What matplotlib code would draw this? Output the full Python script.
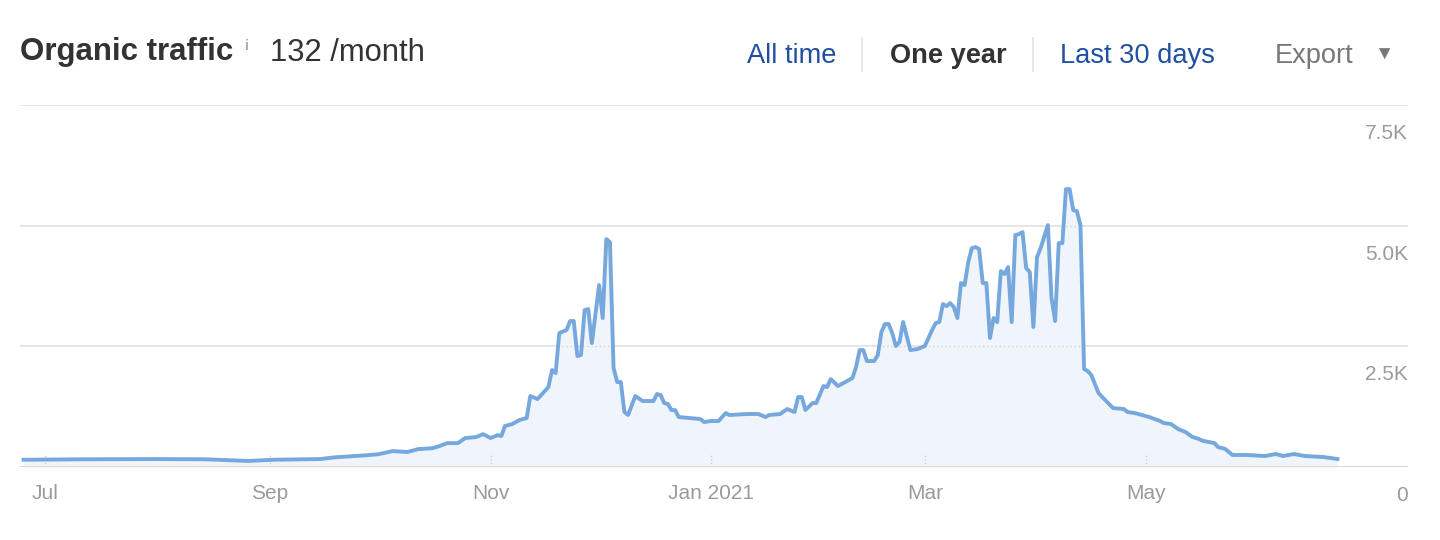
import matplotlib
matplotlib.use("Agg")
import matplotlib.pyplot as plt
import matplotlib.dates as mdates
import pandas as pd
from matplotlib.lines import Line2D

plt.rcParams["font.family"] = ["Liberation Sans", "DejaVu Sans"]

# daily organic traffic (irregular sampling)
dates = [
    "2020-06-25", "2020-07-12", "2020-07-31", "2020-08-14", "2020-08-26",
    "2020-09-02", "2020-09-15", "2020-09-19", "2020-09-28", "2020-10-01",
    "2020-10-05", "2020-10-09", "2020-10-12", "2020-10-16", "2020-10-18",
    "2020-10-20", "2020-10-23", "2020-10-25", "2020-10-28", "2020-10-30",
    "2020-11-01", "2020-11-03", "2020-11-04", "2020-11-05", "2020-11-07",
    "2020-11-09", "2020-11-11", "2020-11-12", "2020-11-14", "2020-11-17",
    "2020-11-18", "2020-11-19", "2020-11-20", "2020-11-22", "2020-11-23",
    "2020-11-24", "2020-11-25", "2020-11-26", "2020-11-27", "2020-11-28",
    "2020-11-29", "2020-12-01", "2020-12-02", "2020-12-03", "2020-12-04",
    "2020-12-05", "2020-12-06", "2020-12-07", "2020-12-08", "2020-12-09",
    "2020-12-11", "2020-12-13", "2020-12-16", "2020-12-17", "2020-12-18",
    "2020-12-19", "2020-12-20", "2020-12-21", "2020-12-22", "2020-12-23",
    "2020-12-26", "2020-12-29", "2020-12-30", "2021-01-01", "2021-01-03",
    "2021-01-05", "2021-01-06", "2021-01-11", "2021-01-14", "2021-01-16",
    "2021-01-17", "2021-01-20", "2021-01-22", "2021-01-24", "2021-01-25",
    "2021-01-26", "2021-01-27", "2021-01-29", "2021-01-30", "2021-02-01",
    "2021-02-02", "2021-02-03", "2021-02-05", "2021-02-08", "2021-02-09",
    "2021-02-10", "2021-02-11", "2021-02-12", "2021-02-13", "2021-02-15",
    "2021-02-16", "2021-02-17", "2021-02-18", "2021-02-19", "2021-02-20",
    "2021-02-21", "2021-02-22", "2021-02-23", "2021-02-24", "2021-02-25",
    "2021-02-27", "2021-03-01", "2021-03-03", "2021-03-04", "2021-03-05",
    "2021-03-06", "2021-03-07", "2021-03-08", "2021-03-09", "2021-03-10",
    "2021-03-11", "2021-03-12", "2021-03-13", "2021-03-14", "2021-03-15",
    "2021-03-16", "2021-03-17", "2021-03-18", "2021-03-19", "2021-03-20",
    "2021-03-21", "2021-03-22", "2021-03-23", "2021-03-24", "2021-03-25",
    "2021-03-26", "2021-03-27", "2021-03-28", "2021-03-29", "2021-03-30",
    "2021-03-31", "2021-04-01", "2021-04-02", "2021-04-04", "2021-04-05",
    "2021-04-06", "2021-04-07", "2021-04-08", "2021-04-09", "2021-04-10",
    "2021-04-11", "2021-04-12", "2021-04-13", "2021-04-14", "2021-04-15",
    "2021-04-16", "2021-04-18", "2021-04-19", "2021-04-22", "2021-04-25",
    "2021-04-26", "2021-04-28", "2021-04-30", "2021-05-02", "2021-05-05",
    "2021-05-06", "2021-05-08", "2021-05-10", "2021-05-12", "2021-05-14",
    "2021-05-15", "2021-05-17", "2021-05-20", "2021-05-21", "2021-05-23",
    "2021-05-25", "2021-05-29", "2021-06-03", "2021-06-06", "2021-06-08",
    "2021-06-11", "2021-06-14", "2021-06-19", "2021-06-21", "2021-06-23",
]
visits = [
    150, 160, 165, 160, 125,
    150, 165, 200, 245, 265,
    330, 310, 370, 390, 435,
    495, 495, 600, 620, 680,
    600, 660, 642, 849, 890,
    973, 1015, 1470, 1408, 1657,
    2009, 1947, 2775, 2837, 3024,
    3024, 2299, 2320, 3251, 3272,
    2568, 3769, 3086, 4722, 4660,
    2050, 1760, 1760, 1140, 1077,
    1470, 1367, 1367, 1512, 1491,
    1325, 1305, 1180, 1180, 1035,
    1015, 994, 932, 953, 953,
    1118, 1077, 1098, 1098, 1035,
    1077, 1098, 1201, 1139, 1450,
    1450, 1180, 1325, 1325, 1677,
    1657, 1822, 1677, 1802, 1843,
    2071, 2423, 2423, 2195, 2195,
    2320, 2796, 2962, 2962, 2775,
    2506, 2589, 3003, 2713, 2423,
    2444, 2506, 2837, 2982, 3003,
    3376, 3334, 3396, 3314, 3086,
    3811, 3769, 4246, 4535, 4556,
    4515, 3811, 3811, 2672, 3086,
    3003, 4059, 3997, 4142, 3003,
    4805, 4825, 4867, 4121, 4038,
    2899, 4349, 4535, 5012, 3500,
    3024, 4639, 4639, 5757, 5757,
    5322, 5302, 5012, 2030, 1988,
    1905, 1533, 1450, 1222, 1201,
    1139, 1118, 1077, 1035, 953,
    911, 891, 787, 725, 621,
    600, 538, 497, 414, 373,
    249, 249, 228, 269, 228,
    269, 228, 207, 186, 166,
]

y_ticks = [0, 2500, 5000, 7500]
y_labels = ["0", "2.5K", "5.0K", "7.5K"]
month_ticks = ["2020-07-01", "2020-09-01", "2020-11-01",
               "2021-01-01", "2021-03-01", "2021-05-01"]
month_labels = ["Jul", "Sep", "Nov", "Jan 2021", "Mar", "May"]

x = pd.to_datetime(dates)
ticks = pd.to_datetime(month_ticks)

LINE = "#76a8de"
FILL = "#eff5fb"
GRID = "#e6e6e6"
LABEL = "#9b9b9b"

fig = plt.figure(figsize=(14.4, 5.4), dpi=100)
ax = fig.add_axes([20 / 1440, 73 / 540, 1388 / 1440, 362 / 540])

area = ax.fill_between(x, visits, 0, color=FILL, lw=0, zorder=1)
ax.plot(x, visits, color=LINE, lw=2.8, solid_joinstyle="round", zorder=3)

# grid: solid outside the filled area, dotted where it crosses the fill
fill_path = area.get_paths()[0]
for v in y_ticks[1:]:
    ax.axhline(v, color=GRID, lw=1.4, zorder=0)
    dotted = ax.axhline(v, color="#d4d4d4", lw=1.0, ls=(0, (1, 2)), zorder=2)
    dotted.set_clip_path(fill_path, ax.transData)
ax.axhline(0, color="#d8d8d8", lw=2.2, zorder=4)

# short dotted month ticks rising from the baseline
ax.vlines(ticks, 0, 12 / 362, transform=ax.get_xaxis_transform(),
          colors="#cfcfcf", lw=1.0, linestyles=(0, (1, 1.5)), zorder=2)

ax.set_xlim(mdates.date2num(pd.Timestamp("2020-06-24")),
            mdates.date2num(pd.Timestamp("2021-07-12")) + 0.5)
ax.set_ylim(0, 7500)
ax.set_xticks(ticks)
ax.set_xticklabels(month_labels)
ax.tick_params(axis="x", length=0, pad=12.5, labelsize=15, labelcolor=LABEL)
ax.set_yticks([])
for s in ax.spines.values():
    s.set_visible(False)

for v, lab in zip(y_ticks, y_labels):
    ax.annotate(lab, xy=(1, v), xycoords=("axes fraction", "data"),
                xytext=(0, -20.5), textcoords="offset points",
                ha="right", va="center", fontsize=15, color=LABEL)

# header
fig.text(20 / 1440, 1 - 60 / 540, "Organic traffic", fontsize=22.5,
         fontweight="bold", color="#333333", va="baseline")
fig.text(245 / 1440, 1 - 50 / 540, "i", fontsize=10, fontweight="bold",
         color="#aaaaaa", va="baseline")
fig.text(270 / 1440, 1 - 61 / 540, "132 /month", fontsize=22.3,
         color="#333333", va="baseline")

blue = "#1f4fa0"
fig.text(747 / 1440, 1 - 63 / 540, "All time", fontsize=19.6, color=blue,
         va="baseline")
fig.text(890 / 1440, 1 - 63 / 540, "One year", fontsize=19.6,
         fontweight="bold", color="#333333", va="baseline")
fig.text(1060 / 1440, 1 - 63 / 540, "Last 30 days", fontsize=19.6, color=blue,
         va="baseline")
fig.text(1275 / 1440, 1 - 63 / 540, "Export", fontsize=19.6, color="#777777",
         va="baseline")
fig.text(1384 / 1440, 1 - 55 / 540, "\u25bc", fontsize=14, color="#777777",
         ha="center", va="center")

for sx in (862, 1033):
    fig.add_artist(Line2D([sx / 1440, sx / 1440], [1 - 38 / 540, 1 - 71 / 540],
                          color="#e3e3e3", lw=1.2))

fig.savefig("out.png", dpi=100, facecolor="white")
